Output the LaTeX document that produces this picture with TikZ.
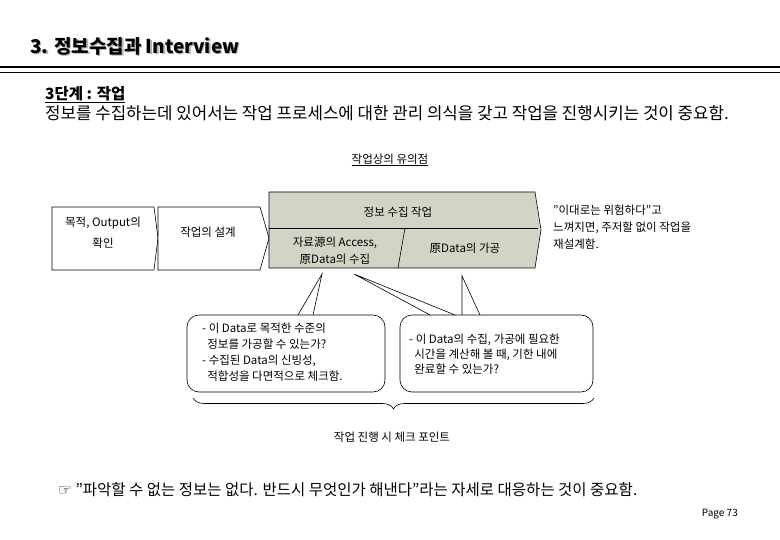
\documentclass[tikz,border=0pt]{standalone}
\usepackage{fontspec}
\setmainfont{Noto Sans CJK KR}
\newfontfamily\symf{DejaVu Sans}
\usetikzlibrary{decorations.pathreplacing}
\definecolor{boxgray}{RGB}{212,212,198}
\tikzset{
  lbl/.style={inner sep=0pt,font=\fontsize{11.5}{13}\selectfont},
  shp/.style={draw=black,line width=0.6pt},
  bub/.style={draw=black,line width=0.6pt,rounded corners=12pt,fill=white},
}
\begin{document}
\begin{tikzpicture}[x=1pt,y=-1pt]
\useasboundingbox (0,0) rectangle (780,540);
% title
\node[anchor=west,inner sep=0pt,font=\fontsize{19}{21}\selectfont\bfseries,text=gray!60] at (31.5,47.5) {3. 정보수집과 Interview};
\node(title)[anchor=west,inner sep=0pt,font=\fontsize{19}{21}\selectfont\bfseries] at (30,46) {3. 정보수집과 Interview};
\draw[line width=2.5pt] (0,67) -- (780,67);
\draw[line width=0.8pt] (0,72.5) -- (780,72.5);
\node(step)[anchor=west,inner sep=0pt,font=\fontsize{15.5}{17}\selectfont\bfseries] at (45,95) {\underline{3단계 : 작업}};
\node(intro)[anchor=west,inner sep=0pt,font=\fontsize{16.8}{18}\selectfont] at (45,113) {정보를 수집하는데 있어서는 작업 프로세스에 대한 관리 의식을 갖고 작업을 진행시키는 것이 중요함.};
\node(head)[lbl] at (390,160) {\underline{작업상의 유의점}};
% boxes
\draw[shp,fill=white] (52,207) -- (154,207) -- (158,238) -- (154,270) -- (52,270) -- cycle;
\draw[shp,fill=white] (158,207) -- (260,207) -- (269,238) -- (260,270) -- (158,270) -- cycle;
\draw[shp,fill=boxgray] (269,192) -- (535,192) -- (541,230) -- (535,268) -- (269,268) -- cycle;
\draw[shp] (269,228) -- (538,228);
\draw[shp] (405,228) -- (398,268);
\node(b1)[lbl,align=center,font=\fontsize{11.5}{21}\selectfont] at (103,233) {목적, Output의\\확인};
\node(b2)[lbl] at (208,232) {작업의 설계};
\node(g0)[lbl] at (398,212) {정보 수집 작업};
\node(g1)[lbl,align=center,font=\fontsize{11.5}{17}\selectfont] at (335,251) {자료源의 Access,\\原Data의 수집};
\node(g2)[lbl] at (465,248) {原Data의 가공};
\node(warn)[lbl,anchor=north west,align=left,font=\fontsize{11.5}{17}\selectfont] at (553,205) {"이대로는 위험하다"고\\느껴지면, 주저할 없이 작업을\\재설계함.};
% bubbles
\draw[bub] (187,315) rectangle (385,392);
\draw[bub] (400,315) rectangle (593,392);
\fill[white] (298,314) -- (322,274) -- (313,314) -- cycle;
\draw[shp,line join=miter] (298,315) -- (322,274) -- (313,315);
\fill[white] (430,314) -- (354,274) -- (455,314) -- cycle;
\draw[shp] (430,315) -- (354,274) -- (455,315);
\fill[white] (462,314) -- (462,276) -- (480,314) -- cycle;
\draw[shp] (462,315) -- (462,276) -- (480,315);
\node(t1)[lbl,anchor=north west,align=left,font=\fontsize{11.5}{16}\selectfont] at (202,323) {- 이 Data로 목적한 수준의\\\ \ 정보를 가공할 수 있는가?\\- 수집된 Data의 신빙성,\\\ \ 적합성을 다면적으로 체크함.};
\node(t2)[lbl,anchor=north west,align=left,font=\fontsize{11.5}{15}\selectfont] at (409,334) {- 이 Data의 수집, 가공에 필요한\\\ \ 시간을 계산해 볼 때, 기한 내에\\\ \ 완료할 수 있는가?};
\draw[shp,decorate,decoration={brace,mirror,amplitude=11pt}] (193,398) -- (594,398);
\node(chk)[lbl] at (392,437) {작업 진행 시 체크 포인트};
\node(tip)[anchor=west,inner sep=0pt,font=\fontsize{15.5}{17}\selectfont] at (58,490) {{\symf ☞} "파악할 수 없는 정보는 없다. 반드시 무엇인가 해낸다"라는 자세로 대응하는 것이 중요함.};
\node(page)[anchor=east,inner sep=0pt,font=\fontsize{10}{12}\selectfont] at (738,514) {Page 73};
\end{tikzpicture}
\end{document}
